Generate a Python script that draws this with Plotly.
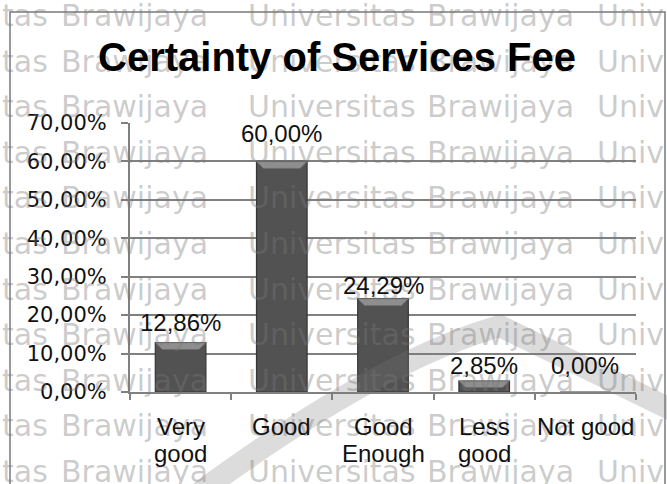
import plotly.graph_objects as go

# ---- data ----
categories = ["Very<br>good", "Good", "Good<br>Enough", "Less<br>good", "Not good"]
values = [12.86, 60.00, 24.29, 2.85, 0.00]
y_ticks = [0, 10, 20, 30, 40, 50, 60, 70]
title_text = "Certainty of Services Fee"
watermark_words = ["tas", "Brawijaya", "Universitas", "Brawijaya", "Univ"]

# ---- page geometry (pixels) ----
W, H = 667, 484
L, R, T, B = 130, 31, 123, 92
PW, PH = W - L - R, H - T - B
Y_MAX = 70


def px_x(px):
    return (px - L) / PW


def px_y(py):
    return (H - B - py) / PH


def fmt_pct(v):
    return f"{v:.2f}".replace(".", ",") + "%"


LABEL_FONT = "Liberation Sans, Arial, sans-serif"
DESC = 0.212  # descent of Liberation Sans, in em

fig = go.Figure()
fig.add_trace(go.Bar(
    x=list(range(len(values))), y=values, width=0.5,
    marker=dict(color="#525252", line=dict(color="#363636", width=1.2)),
    hoverinfo="skip",
))

shapes = []
# bevelled top face on every bar
bev_y = 7 * Y_MAX / PH
bev_x = 7 / (PW / len(values))
for i, v in enumerate(values):
    if v <= 0:
        continue
    h = min(bev_y, v * 0.6)
    x0, x1 = i - 0.25, i + 0.25
    path = (f"M {x0} {v} L {x1} {v} L {x1 - bev_x} {v - h} "
            f"L {x0 + bev_x} {v - h} Z")
    shapes.append(dict(type="path", xref="x", yref="y", path=path,
                       fillcolor="#8e8e8e", line=dict(color="#6a6a6a", width=0.8),
                       layer="above"))

# outer chart frame
shapes.append(dict(type="rect", xref="paper", yref="paper",
                   x0=px_x(10), x1=px_x(665), y0=px_y(492), y1=px_y(12),
                   line=dict(color="#7a7a7a", width=1.5), fillcolor="rgba(0,0,0,0)",
                   layer="above"))

# faded emblem arc in the background
p0, p1, p2, p3 = (200, 492), (380, 360), (500, 326), (672, 410)
arc = (f"M {px_x(p0[0])} {px_y(p0[1])} Q {px_x(p1[0])} {px_y(p1[1])} "
       f"{px_x(p2[0])} {px_y(p2[1])} L {px_x(p3[0])} {px_y(p3[1])}")
shapes.append(dict(type="path", xref="paper", yref="paper", path=arc,
                   line=dict(color="rgba(120,120,120,0.26)", width=22),
                   fillcolor="rgba(0,0,0,0)", layer="above"))

annotations = []
# repeated watermark text
WM_SIZE = 30
WM_DESC = 0.236
word_x = [1, 60, 247, 426, 596]
for k in range(11):
    base = 27 + 45.6 * k
    for word, wx in zip(watermark_words, word_x):
        annotations.append(dict(
            text=word, xref="paper", yref="paper", x=px_x(wx),
            y=px_y(base + WM_DESC * WM_SIZE), xanchor="left", yanchor="bottom",
            showarrow=False, borderpad=0,
            font=dict(family="DejaVu Sans, sans-serif", size=WM_SIZE,
                      color="rgba(120,120,120,0.38)"),
        ))

# title
annotations.append(dict(
    text=f"<b>{title_text}</b>", xref="paper", yref="paper",
    x=px_x(336.5), y=px_y(72 + DESC * 40), xanchor="center", yanchor="bottom",
    showarrow=False, borderpad=0,
    font=dict(family=LABEL_FONT, size=40, color="#000000"),
))

# value labels above bars
label_lift = [5.5, 13, -1.5, 1, 12]
for i, v in enumerate(values):
    annotations.append(dict(
        text=fmt_pct(v), xref="x", yref="y", x=i, y=v,
        xanchor="center", yanchor="bottom", yshift=label_lift[i],
        showarrow=False, borderpad=0,
        font=dict(family=LABEL_FONT, size=24, color="#111111"),
    ))

# category names (one annotation per text line)
line_base = [436, 463]
for i, cat in enumerate(categories):
    for j, part in enumerate(cat.split("<br>")):
        annotations.append(dict(
            text=part, xref="x", yref="paper", x=i,
            y=px_y(line_base[j] + DESC * 24), xanchor="center", yanchor="bottom",
            showarrow=False, borderpad=0,
            font=dict(family=LABEL_FONT, size=24, color="#111111"),
        ))

fig.update_layout(
    width=W, height=H, autosize=False,
    margin=dict(l=L, r=R, t=T, b=B, pad=0),
    paper_bgcolor="white", plot_bgcolor="white",
    showlegend=False,
    shapes=shapes, annotations=annotations,
)
fig.update_xaxes(
    range=[-0.5, len(values) - 0.5],
    tickvals=[i - 0.5 for i in range(len(values) + 1)],
    showticklabels=False, ticks="outside", ticklen=6, tickwidth=2,
    tickcolor="#808080", showgrid=False, zeroline=False,
    showline=True, linecolor="#808080", linewidth=2,
)
fig.update_yaxes(
    range=[0, Y_MAX], tickvals=y_ticks, ticktext=[fmt_pct(t) for t in y_ticks],
    ticks="outside", ticklen=7, tickwidth=2, tickcolor="#808080",
    showgrid=True, gridcolor="#808080", gridwidth=1.6,
    showline=True, linecolor="#808080", linewidth=2, zeroline=False,
    tickfont=dict(family="DejaVu Sans, sans-serif", size=21, color="#111111"),
    ticklabelstandoff=10,
)

fig.write_html("out.html")
